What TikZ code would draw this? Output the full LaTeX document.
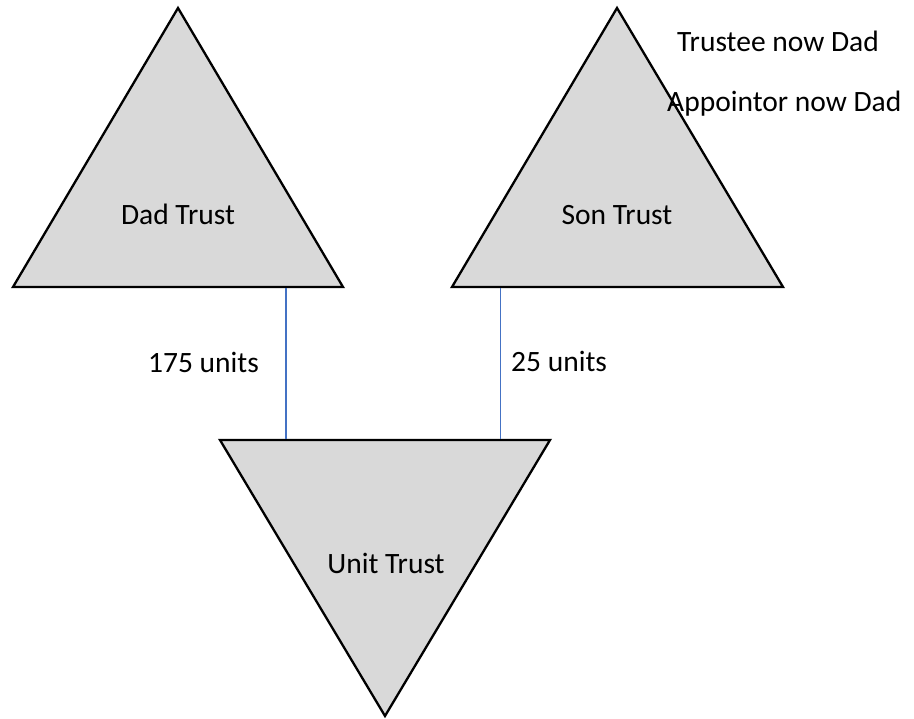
\documentclass[tikz,border=0pt]{standalone}
\usepackage{fontspec}
\setmainfont{Carlito}
\begin{document}
\begin{tikzpicture}[x=1pt,y=-1pt,
  tri/.style={draw=black,line width=2.3pt,fill=trigray,line join=miter},
  lbl/.style={anchor=base west,inner sep=0pt,font=\fontsize{29.5}{34}\selectfont},
  ctr/.style={anchor=base,inner sep=0pt,font=\fontsize{29.5}{34}\selectfont},
  link/.style={draw=linkblue,line width=1.2pt}]
\definecolor{trigray}{HTML}{D9D9D9}
\definecolor{linkblue}{HTML}{4472C4}
\useasboundingbox (0,0) rectangle (914,719);
% triangles
\draw[tri] (13,287) -- (178,8) -- (343,287) -- cycle;
\draw[tri] (452,287) -- (617,8) -- (783,287) -- cycle;
\draw[tri] (220,440) -- (550,440) -- (385,716) -- cycle;
% connector ends
\coordinate (dadbase) at (286,288);
\coordinate (sonbase) at (500.5,288);
\coordinate (unittopl) at (286,439);
\coordinate (unittopr) at (500.5,439);
\draw[link] (dadbase) -- (unittopl);
\draw[link] (sonbase) -- (unittopr);
% labels
\node[ctr] (dad) at (178,225) {Dad Trust};
\node[ctr] (son) at (617,225) {Son Trust};
\node[ctr] (unit) at (386,573) {Unit Trust};
\node[lbl] (u175) at (148,373) {175 units};
\node[lbl] (u25) at (511,372) {25 units};
\node[lbl] (trustee) at (677,52) {Trustee now Dad};
\node[lbl] (appointor) at (667,112) {Appointor now Dad};
\end{tikzpicture}
\end{document}
